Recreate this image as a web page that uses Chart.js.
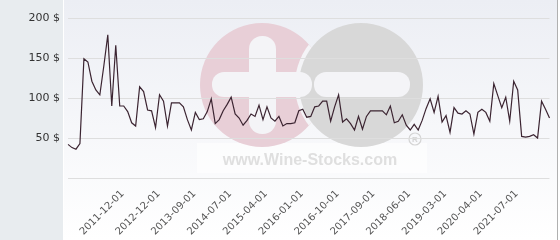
<!doctype html>
<html>
<head>
    <title>Prix</title>
    <script src="https://cdn.jsdelivr.net/npm/chart.js"></script>
    <style>
        body { margin: 0; background: #fff; }
        #wrap { width: 560px; height: 240px; }
    </style>
</head>
<body>
    <div id="wrap">
        <canvas id="prix" width="560" height="240"></canvas>
    </div>

    <script>
        // prix relevés (un point par cotation)
        var prix = [
            42, 38, 36, 43, 149, 145, 121, 110, 104, 140,
            179, 90, 166, 90, 90, 83, 69, 65, 114, 108,
            85, 84, 63, 104, 96, 65, 94, 94, 94, 89,
            73, 60, 82, 73, 74, 83, 99, 68, 73, 84,
            92, 101, 80, 75, 66, 72, 80, 77, 91, 73,
            89, 75, 71, 77, 65, 68, 68, 69, 84, 86,
            76, 77, 89, 90, 96, 96, 71, 89, 104, 70,
            74, 68, 60, 77, 61, 77, 84, 84, 84, 84,
            79, 90, 69, 71, 79, 66, 60, 67, 60, 72,
            87, 99, 82, 102, 70, 78, 57, 88, 81, 80,
            84, 80, 55, 82, 86, 82, 71, 118, 103, 88,
            101, 71, 121, 110, 52, 51, 52, 54, 50, 96, 86, 75
        ];

        // dates visibles sur l'axe et leur position dans la série
        var datesAxe = ['2011-12-01', '2012-12-01', '2013-09-01', '2014-07-01', '2015-04-01', '2016-01-01',
            '2016-10-01', '2017-09-01', '2018-06-01', '2019-03-01', '2020-04-01', '2021-07-01'];
        var indexDates = [13, 22, 31, 40, 49, 58, 67, 76, 85, 94, 103, 112];

        var yTicks = [0, 50, 100, 150, 200];

        var labels = prix.map(function () { return ''; });
        indexDates.forEach(function (idx, i) { labels[idx] = datesAxe[i]; });

        function roundRect(ctx, x, y, w, h, r) {
            ctx.beginPath();
            ctx.moveTo(x + r, y);
            ctx.arcTo(x + w, y, x + w, y + h, r);
            ctx.arcTo(x + w, y + h, x, y + h, r);
            ctx.arcTo(x, y + h, x, y, r);
            ctx.arcTo(x, y, x + w, y, r);
            ctx.closePath();
            ctx.fill();
        }

        // fond + filigrane
        var fond = {
            id: 'fond',
            beforeDraw: function (chart) {
                var ctx = chart.ctx;
                ctx.save();
                var g = ctx.createLinearGradient(0, 0, 0, 240);
                g.addColorStop(0, '#eceef4');
                g.addColorStop(1, '#ffffff');
                ctx.fillStyle = g;
                ctx.fillRect(0, 0, 560, 240);
                ctx.fillStyle = '#e8ecef';
                ctx.fillRect(0, 0, 63, 240);
                ctx.fillStyle = '#ffffff';
                ctx.fillRect(63, 0, 1, 240);

                // bandeau clair derrière le texte
                ctx.fillStyle = 'rgba(255,255,255,0.6)';
                ctx.fillRect(197, 143, 230, 30);

                // cercle rose
                ctx.fillStyle = '#e8cfd7';
                ctx.beginPath();
                ctx.arc(262, 85, 62, 0, Math.PI * 2);
                ctx.fill();
                // séparation blanche seulement sur le rose
                ctx.save();
                ctx.beginPath();
                ctx.arc(262, 85, 62, 0, Math.PI * 2);
                ctx.clip();
                ctx.fillStyle = '#f4f4f7';
                ctx.beginPath();
                ctx.arc(361, 85, 66, 0, Math.PI * 2);
                ctx.fill();
                ctx.restore();
                // cercle gris
                ctx.fillStyle = '#d8d8d8';
                ctx.beginPath();
                ctx.arc(361, 85, 62, 0, Math.PI * 2);
                ctx.fill();

                // plus et moins
                ctx.fillStyle = '#f4f4f7';
                roundRect(ctx, 249, 36, 27, 98, 13);
                roundRect(ctx, 212, 72, 100, 25, 12);
                roundRect(ctx, 314, 72, 96, 25, 12);

                // ®
                ctx.strokeStyle = '#d4d4d4';
                ctx.lineWidth = 1.2;
                ctx.beginPath();
                ctx.arc(415, 139, 6, 0, Math.PI * 2);
                ctx.stroke();
                ctx.fillStyle = '#d4d4d4';
                ctx.font = 'bold 8px "Liberation Sans"';
                ctx.textAlign = 'center';
                ctx.textBaseline = 'middle';
                ctx.fillText('R', 415, 139.5);

                ctx.fillStyle = '#dfdfdf';
                ctx.font = 'bold 16px "Liberation Sans"';
                ctx.fillText('www.Wine-Stocks.com', 310, 161);

                // bord droit
                ctx.fillStyle = '#b0b0b0';
                ctx.fillRect(557, 0, 1, 240);
                ctx.fillStyle = '#ffffff';
                ctx.fillRect(558, 0, 2, 240);
                ctx.restore();
            }
        };

        var graphique = new Chart(document.getElementById('prix').getContext('2d'), {
            type: 'line',
            data: {
                labels: labels,
                datasets: [{
                    data: prix,
                    borderColor: '#3b2431',
                    borderWidth: 1.2,
                    pointRadius: 0,
                    tension: 0,
                    fill: false
                }]
            },
            options: {
                responsive: false,
                animation: false,
                layout: { padding: { top: 18, right: 5, left: 0, bottom: 0 } },
                plugins: {
                    legend: { display: false },
                    tooltip: { enabled: false }
                },
                scales: {
                    x: {
                        grid: { display: false },
                        border: { display: false },
                        afterFit: function (scale) { scale.height = 62; },
                        ticks: {
                            autoSkip: false,
                            minRotation: 45,
                            maxRotation: 45,
                            padding: 2,
                            labelOffset: 3,
                            color: '#555',
                            font: { family: 'DejaVu Sans', size: 10 }
                        }
                    },
                    y: {
                        min: yTicks[0],
                        max: yTicks[yTicks.length - 1],
                        afterBuildTicks: function (scale) {
                            scale.ticks = yTicks.map(function (v) { return { value: v }; });
                        },
                        afterFit: function (scale) { scale.width = 68; },
                        grid: { color: '#dedede', drawTicks: false },
                        border: { display: false },
                        ticks: {
                            padding: 8,
                            color: '#333',
                            font: { family: 'DejaVu Sans', size: 11 },
                            callback: function (v) { return v === 0 ? '' : v + ' $'; }
                        }
                    }
                }
            },
            plugins: [fond]
        });
    </script>
</body>
</html>
